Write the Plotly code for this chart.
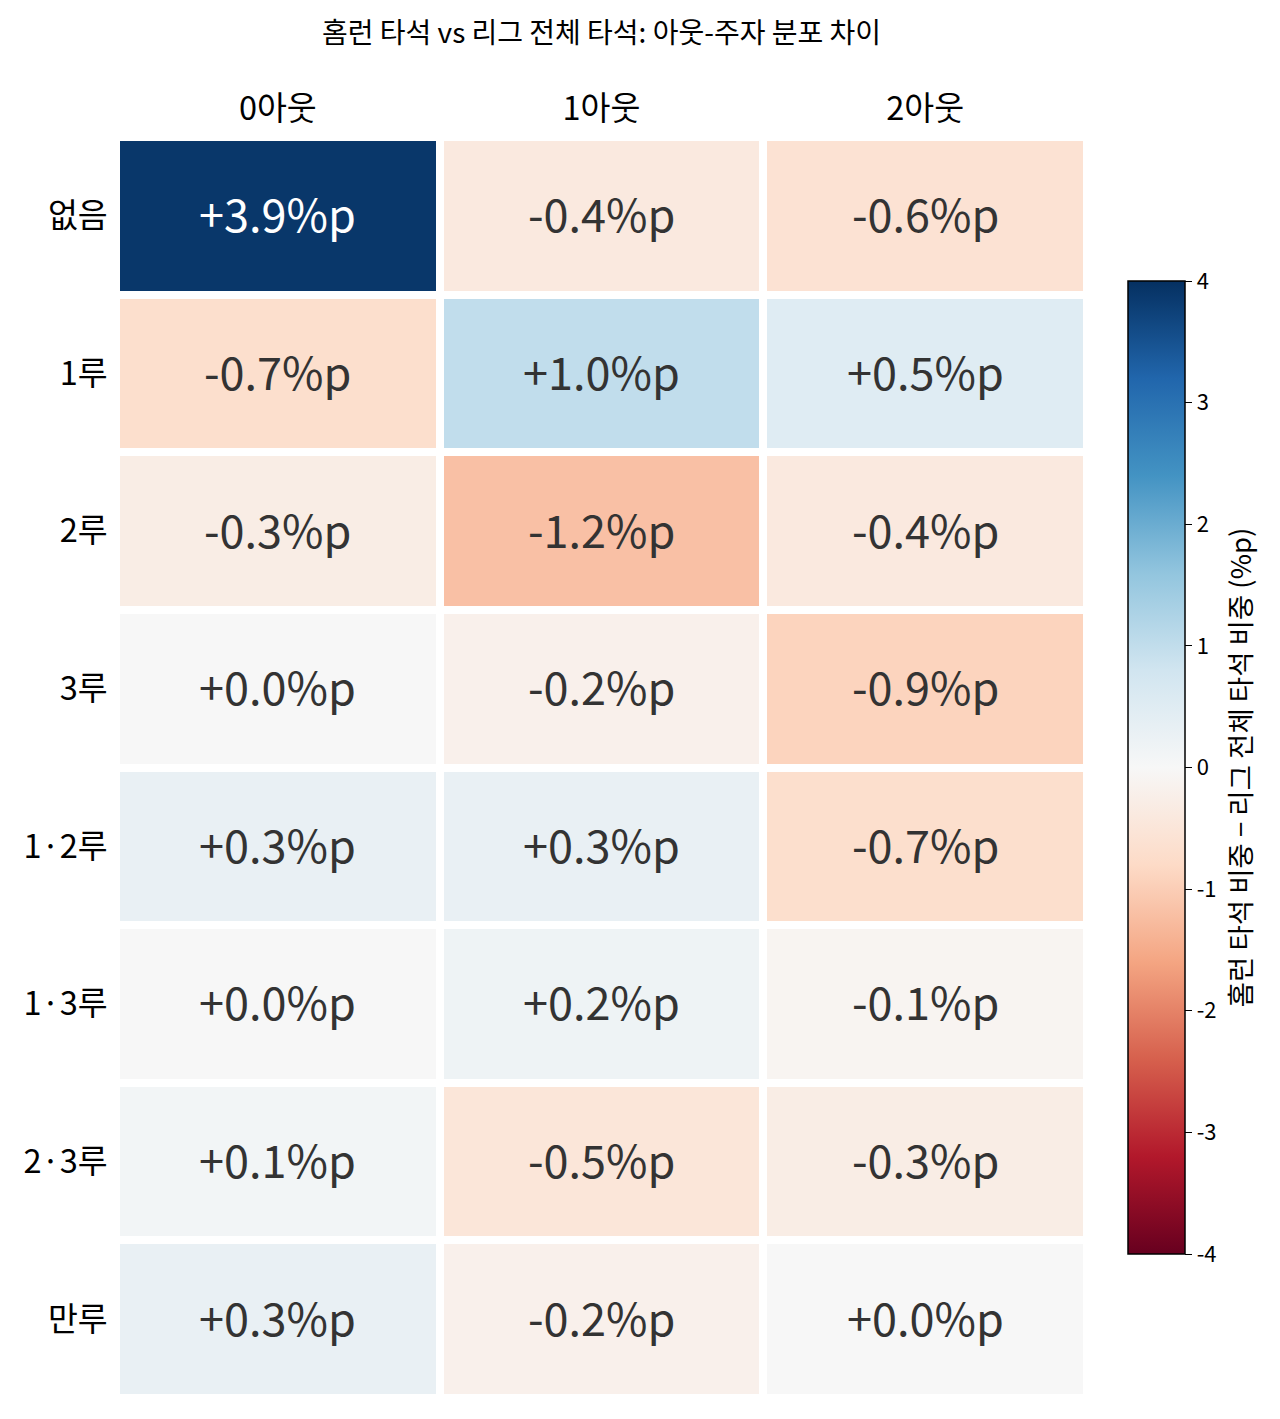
import plotly.graph_objects as go
import plotly.colors as pc

outs = ["0아웃", "1아웃", "2아웃"]
runners = ["없음", "1루", "2루", "3루", "1·2루", "1·3루", "2·3루", "만루"]

# 홈런 타석 비중 - 리그 전체 타석 비중 (%p)
diff_0out = [3.9, -0.7, -0.3, 0.0, 0.3, 0.0, 0.1, 0.3]
diff_1out = [-0.4, 1.0, -1.2, -0.2, 0.3, 0.2, -0.5, -0.2]
diff_2out = [-0.6, 0.5, -0.4, -0.9, -0.7, -0.1, -0.3, 0.0]

cbar_ticks = [-4, -3, -2, -1, 0, 1, 2, 3, 4]

z = [[a, b, c] for a, b, c in zip(diff_0out, diff_1out, diff_2out)]

rdbu = pc.diverging.RdBu
n = len(rdbu)
colorscale = [[i / (n - 1), col] for i, col in enumerate(rdbu)]

FONT = "Noto Sans CJK KR"

fig = go.Figure(go.Heatmap(
    z=z, x=outs, y=runners,
    colorscale=colorscale, zmin=-4, zmax=4,
    xgap=8, ygap=8,
    hoverinfo="skip",
    colorbar=dict(
        x=1.0422, xanchor="left", y=0.5, yanchor="middle",
        len=0.772, ypad=0, xpad=0, thickness=57,
        outlinewidth=1.5, outlinecolor="black",
        ticks="outside", ticklen=7, tickwidth=1.2, tickcolor="black",
        tickvals=cbar_ticks, ticktext=[str(t) for t in cbar_ticks],
        tickfont=dict(family=FONT, size=22, color="black"),
        title=dict(text="홈런 타석 비중 − 리그 전체 타석 비중 (%p)", side="right",
                   font=dict(family=FONT, size=27.5, color="black")),
    ),
))

annotations = []
for i, r in enumerate(runners):
    for j, o in enumerate(outs):
        v = z[i][j]
        annotations.append(dict(
            x=o, y=r, xref="x", yref="y", text=f"{v:+.1f}%p", showarrow=False,
            yshift=3,
            font=dict(family=FONT, size=45, color="white" if abs(v) > 2.5 else "#333333"),
        ))

fig.update_layout(
    width=1280, height=1419,
    margin=dict(l=108, r=201, t=129, b=29),
    paper_bgcolor="white", plot_bgcolor="white",
    title=dict(text="홈런 타석 vs 리그 전체 타석: 아웃-주자 분포 차이",
               xref="paper", x=0.5, xanchor="center", y=0.982, yanchor="middle",
               font=dict(family=FONT, size=28, color="black")),
    xaxis=dict(side="top", showgrid=False, zeroline=False, ticks="", automargin=False,
               ticklabelstandoff=10,
               tickfont=dict(family=FONT, size=32.5, color="black")),
    yaxis=dict(autorange="reversed", showgrid=False, zeroline=False, ticks="", automargin=False,
               ticksuffix=" ", tickfont=dict(family=FONT, size=32.5, color="black")),
    annotations=annotations,
)

fig.write_html("out.html")
